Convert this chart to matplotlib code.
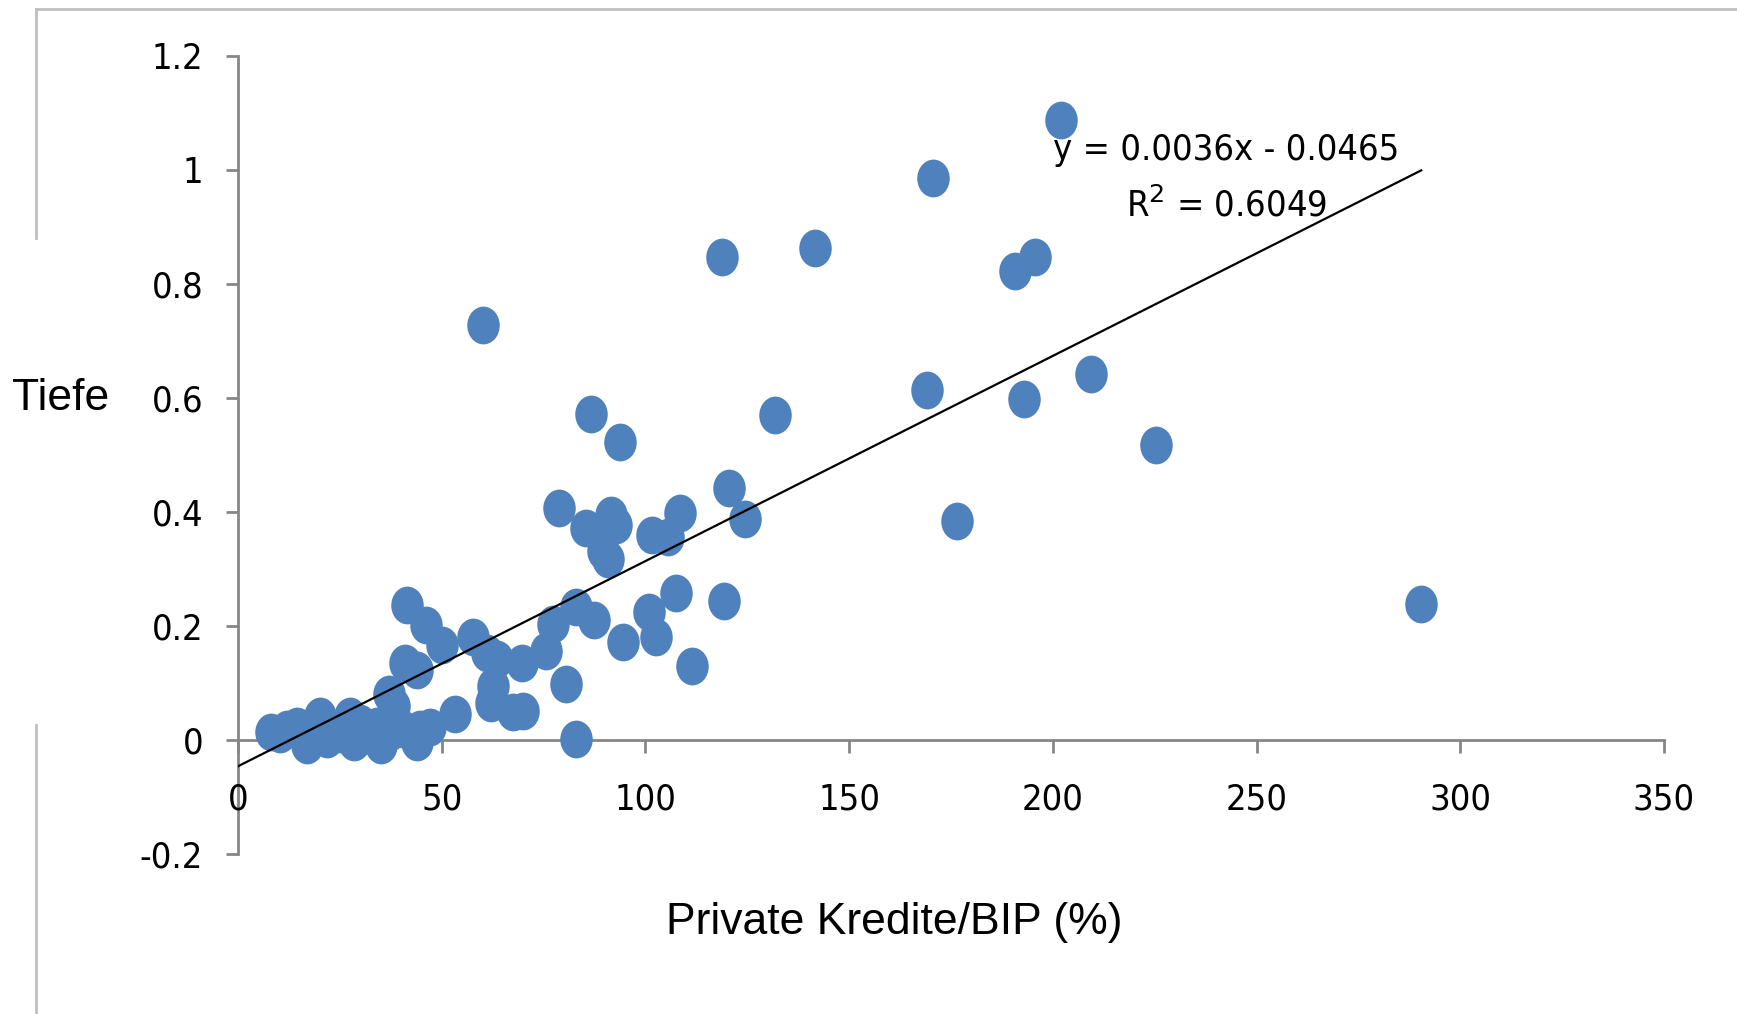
import numpy as np
import matplotlib
matplotlib.use("Agg")
import matplotlib.pyplot as plt
from matplotlib.path import Path
from matplotlib.lines import Line2D

# data
kredite = [202, 170.7, 141.7, 118.8, 195.5, 190.6, 60.1, 209.4, 169.1, 193,
           131.9, 86.7, 93.8, 225.4, 120.4, 124.5, 176.5, 78.8, 108.5, 91.6,
           85.4, 92.7, 89.5, 90.8, 101.7, 105.5, 290.4, 119.4, 107.4, 101,
           102.6, 111.5, 94.5, 87.5, 83, 77.3, 75.7, 80.6, 83, 69.6,
           63.5, 61, 57.7, 62.6, 62.2, 67.5, 70, 41.4, 46.2, 50,
           41, 43.9, 53.3, 37, 38.2,
           10.4, 12, 8, 14.5, 16, 17, 20.2, 21.9, 23.5, 27.6,
           28.4, 31.6, 34, 35, 37.4, 40.6, 43.9, 44.7, 47.1, 30, 25]
tiefe = [1.087, 0.986, 0.862, 0.847, 0.847, 0.823, 0.728, 0.641, 0.614, 0.598,
         0.569, 0.571, 0.522, 0.517, 0.441, 0.388, 0.383, 0.406, 0.398, 0.394,
         0.371, 0.377, 0.332, 0.318, 0.359, 0.355, 0.239, 0.243, 0.258, 0.224,
         0.181, 0.130, 0.172, 0.210, 0.233, 0.204, 0.155, 0.097, 0.002, 0.135,
         0.141, 0.152, 0.181, 0.094, 0.065, 0.048, 0.051, 0.236, 0.201, 0.167,
         0.135, 0.123, 0.045, 0.080, 0.060,
         0.010, 0.019, 0.013, 0.025, 0.013, -0.010, 0.042, 0.002, 0.019, 0.042,
         -0.004, 0.008, 0.025, -0.010, 0.013, 0.019, -0.004, 0.019, 0.022, 0.03, 0.01]

slope, intercept = 0.0036, -0.0465
trend_x = [0, 290.4]

x_ticks = [0, 50, 100, 150, 200, 250, 300, 350]
y_ticks = [-0.2, 0, 0.2, 0.4, 0.6, 0.8, 1.0, 1.2]
y_labels = ["-0.2", "0", "0.2", "0.4", "0.6", "0.8", "1", "1.2"]

blue = "#4F81BD"
grey = "#868686"
num_font = dict(family="DejaVu Sans", stretch="condensed", size=26)

# slightly tall ellipse marker, like the Excel dots
circ = Path.unit_circle()
ell = Path(circ.vertices * [0.86, 1.0], circ.codes)

fig = plt.figure(figsize=(17.37, 10.14), dpi=100)
ax = fig.add_axes([0.137, 0.158, 0.821, 0.787])

ax.scatter(kredite, tiefe, s=740, marker=ell, color=blue, linewidths=0, zorder=3)
ax.plot(trend_x, [slope * v + intercept for v in trend_x], color="black", lw=1.6, zorder=4)

ax.set_xlim(0, 350)
ax.set_ylim(-0.2, 1.2)
ax.spines["top"].set_visible(False)
ax.spines["right"].set_visible(False)
ax.spines["bottom"].set_position(("data", 0))
for sp in ("left", "bottom"):
    ax.spines[sp].set_color(grey)
    ax.spines[sp].set_linewidth(2)
    ax.spines[sp].set_zorder(1)

ax.set_xticks(x_ticks)
ax.set_yticks(y_ticks)
ax.set_yticklabels(y_labels)
ax.tick_params(axis="both", direction="out", length=9, width=2, color=grey)
ax.tick_params(axis="x", pad=22)
ax.tick_params(axis="y", pad=16)
for lbl in ax.get_xticklabels() + ax.get_yticklabels():
    lbl.set(**num_font)

fig.text(0.706, 0.852, "y = 0.0036x - 0.0465", ha="center", va="center", **num_font)
fig.text(0.706, 0.797, "R$^2$ = 0.6049", ha="center", va="center", **num_font)

fig.text(0.035, 0.607, "Tiefe", ha="center", va="center", fontsize=32,
         family="Liberation Sans")
fig.text(0.515, 0.09, "Private Kredite/BIP (%)", ha="center", va="center",
         fontsize=32, family="Liberation Sans")

# outer chart frame (cropped)
frame = "#BFBFBF"
fig.add_artist(Line2D([0.0205, 1.0], [0.991, 0.991], color=frame, lw=2,
                      transform=fig.transFigure))
fig.add_artist(Line2D([0.0205, 0.0205], [0.991, 0.765], color=frame, lw=2,
                      transform=fig.transFigure))
fig.add_artist(Line2D([0.0205, 0.0205], [0.285, 0.0], color=frame, lw=2,
                      transform=fig.transFigure))

fig.savefig("out.png", dpi=100)
